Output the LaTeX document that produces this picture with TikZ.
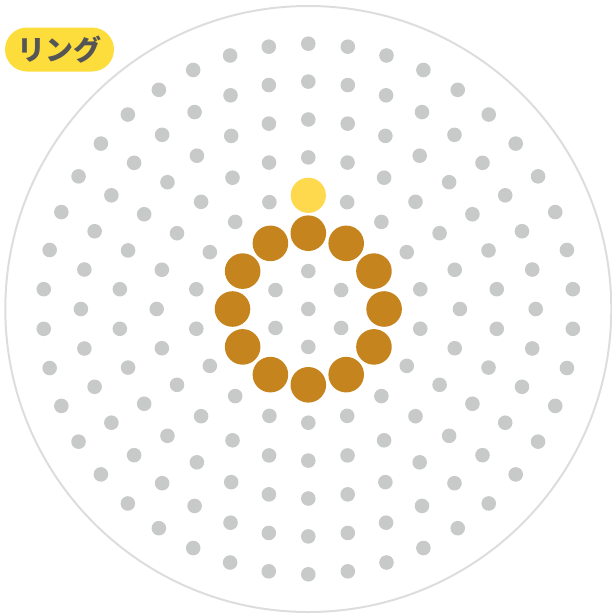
\documentclass[tikz,border=0pt]{standalone}
\usepackage{fontspec}
\newfontfamily\cjk{Noto Sans CJK JP}
\definecolor{dotgray}{RGB}{200,202,202}
\definecolor{ringorange}{RGB}{197,132,30}
\definecolor{hiyellow}{RGB}{255,217,77}
\definecolor{labelyellow}{RGB}{253,221,60}
\definecolor{labeltext}{RGB}{85,85,85}
\definecolor{outerline}{RGB}{221,221,221}
\tikzset{
  outerring/.style={draw=outerline, line width=2pt},
  graydot/.style={fill=dotgray},
  orangedot/.style={fill=ringorange},
  yellowdot/.style={fill=hiyellow},
  labelbox/.style={fill=labelyellow, rounded corners=22pt, minimum width=109pt,
    minimum height=44pt, inner sep=0pt, text=labeltext,
    font=\cjk\bfseries\fontsize{28}{28}\selectfont}
}
\begin{document}
\begin{tikzpicture}[x=1pt,y=-1pt]
\useasboundingbox (0,0) rectangle (612,614);
\coordinate (C) at (308.3,309);
\draw[outerring] (C) circle[radius=303];
\fill[graydot] (C) circle[radius=7.3];
\foreach \k in {1,3,4,5,6,7} {
  \pgfmathtruncatemacro\n{6*\k-1}
  \pgfmathsetmacro\r{37.9*\k}
  \foreach \j in {0,...,\n} {
    \pgfmathsetmacro\a{360*\j/(6*\k)}
    \ifnum\k=3 \ifnum\j=0 \else
      \fill[graydot] ({308.3+\r*sin(\a)},{309-\r*cos(\a)}) circle[radius=7.3];
    \fi\else
      \fill[graydot] ({308.3+\r*sin(\a)},{309-\r*cos(\a)}) circle[radius=7.3];
    \fi
  }
}
\foreach \j in {0,...,11} {
  \pgfmathsetmacro\a{30*\j}
  \fill[orangedot] ({308.3+75.8*sin(\a)},{309-75.8*cos(\a)}) circle[radius=17.8];
}
\fill[yellowdot] (308.3,195.3) circle[radius=17.6];
\node[labelbox] (lbl) at (59.5,49.5) {リング};
\end{tikzpicture}
\end{document}
